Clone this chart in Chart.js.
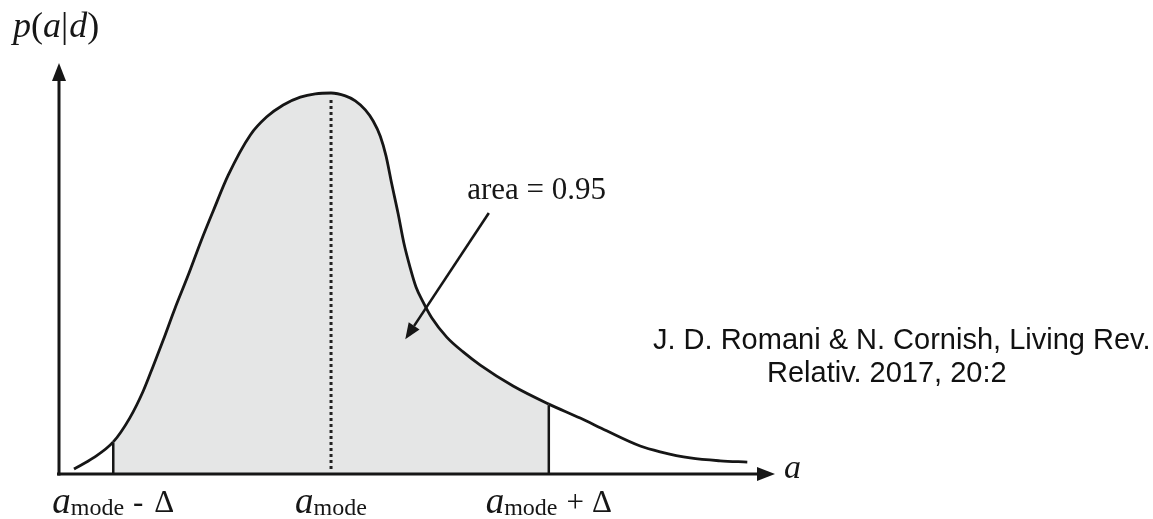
<!DOCTYPE html>
<html>
<head>
<meta charset="utf-8">
<script src="https://cdn.jsdelivr.net/npm/chart.js@4"></script>
<style>
  html, body { margin: 0; padding: 0; background: #fff; }
  #wrap { position: relative; width: 1153px; height: 519px; }
</style>
</head>
<body>
<div id="wrap"><canvas id="c"></canvas></div>
<script>
// Posterior density p(a|d) sampled along a
const aValues = [0.21, 0.48, 0.76, 0.99, 1.18, 1.32, 1.46, 1.62, 1.81, 1.99, 2.16, 2.37, 2.68, 2.91, 3.14, 3.38, 3.59, 3.81, 4.01, 4.15, 4.29, 4.40, 4.50, 4.58, 4.66, 4.75, 4.83, 4.92, 5.00, 5.10, 5.22, 5.43, 5.66, 5.90, 6.36, 6.86, 7.30, 7.67, 8.14, 8.42, 8.84, 9.26, 9.64];
const pValues = [0.012, 0.039, 0.078, 0.136, 0.202, 0.263, 0.326, 0.401, 0.484, 0.567, 0.640, 0.727, 0.825, 0.869, 0.898, 0.917, 0.925, 0.927, 0.920, 0.908, 0.886, 0.859, 0.822, 0.774, 0.706, 0.633, 0.562, 0.501, 0.455, 0.418, 0.380, 0.333, 0.297, 0.265, 0.214, 0.170, 0.136, 0.105, 0.068, 0.054, 0.039, 0.032, 0.029];

// Credible interval: a_mode - Δ, a_mode, a_mode + Δ
const aLower = 0.76;
const aMode = 3.81;
const aUpper = 6.86;
const intervalArea = 0.95;

const citationLines = ['J. D. Romani & N. Cornish, Living Rev.', 'Relativ. 2017, 20:2'];

const INK = '#161616';
const SHADE = '#e5e6e6';
const SERIF = '"Liberation Serif", "DejaVu Serif", serif';
const SANS = '"Liberation Sans", Arial, sans-serif';

function pAt(a) {
  return pValues[aValues.indexOf(a)];
}

function arrowHead(ctx, x0, y0, x1, y1, len, half) {
  const ang = Math.atan2(y1 - y0, x1 - x0);
  const bx = x1 - len * Math.cos(ang), by = y1 - len * Math.sin(ang);
  const nx = -Math.sin(ang) * half, ny = Math.cos(ang) * half;
  ctx.beginPath();
  ctx.moveTo(x1, y1);
  ctx.lineTo(bx + nx, by + ny);
  ctx.lineTo(bx - nx, by - ny);
  ctx.closePath();
  ctx.fill();
  return [bx, by];
}

// "a_mode" plus an optional "± Δ", centred on cx
function modeLabel(ctx, cx, base, sign, gap1, gap2) {
  const fA = 'italic 37px ' + SERIF, fSub = '24px ' + SERIF, fS = '31px ' + SERIF;
  ctx.font = fA; const wA = ctx.measureText('a').width;
  ctx.font = fSub; const wSub = ctx.measureText('mode').width;
  ctx.font = fS;
  const wSign = sign ? ctx.measureText(sign).width : 0;
  const wD = sign ? ctx.measureText('\u0394').width : 0;
  const total = wA + wSub + (sign ? gap1 + wSign + gap2 + wD : 0);
  let x = cx - total / 2;
  ctx.textAlign = 'left';
  ctx.textBaseline = 'alphabetic';
  ctx.font = fA; ctx.fillText('a', x, base); x += wA;
  ctx.font = fSub; ctx.fillText('mode', x, base + 2); x += wSub;
  if (sign) {
    ctx.font = fS;
    x += gap1; ctx.fillText(sign, x, base - 1); x += wSign + gap2;
    ctx.fillText('\u0394', x, base - 1);
  }
}

const overlay = {
  id: 'overlay',
  afterDatasetsDraw(chart) {
    const { ctx, scales: { x, y } } = chart;
    const y0 = y.getPixelForValue(0);
    ctx.save();
    ctx.strokeStyle = INK;
    ctx.lineWidth = 2.5;
    [aLower, aUpper].forEach(a => {
      const px = x.getPixelForValue(a);
      ctx.beginPath();
      ctx.moveTo(px, y0);
      ctx.lineTo(px, y.getPixelForValue(pAt(a)) + 1);
      ctx.stroke();
    });
    // dotted line at the mode
    const pm = x.getPixelForValue(aMode);
    ctx.setLineDash([3, 3]);
    ctx.lineWidth = 3;
    ctx.strokeStyle = '#222';
    ctx.beginPath();
    ctx.moveTo(pm, y0 - 5);
    ctx.lineTo(pm, y.getPixelForValue(pAt(aMode)) + 4);
    ctx.stroke();
    ctx.restore();
  },
  afterDraw(chart) {
    const { ctx, chartArea: ca, scales: { x, y } } = chart;
    ctx.save();
    ctx.fillStyle = INK;
    ctx.strokeStyle = INK;
    ctx.lineWidth = 3;

    // horizontal axis with arrow
    const ax0 = ca.left - 2, axY = ca.bottom, axEnd = ca.right + 2;
    const [hx] = arrowHead(ctx, ax0, axY, axEnd, axY, 18, 7);
    ctx.beginPath(); ctx.moveTo(ax0, axY); ctx.lineTo(hx + 1, axY); ctx.stroke();

    // vertical axis with arrow
    const vx = ca.left, vTop = ca.top;
    const [, hy] = arrowHead(ctx, vx, axY + 1, vx, vTop, 18, 7);
    ctx.beginPath(); ctx.moveTo(vx, axY + 1.5); ctx.lineTo(vx, hy - 1); ctx.stroke();

    // axis titles
    ctx.textBaseline = 'alphabetic';
    ctx.textAlign = 'left';
    ctx.font = 'italic 34px ' + SERIF;
    ctx.fillText('a', axEnd + 9, axY + 4);

    let tx = 13; const tb = 37;
    const parts = [['p', 'italic'], ['(', ''], ['a', 'italic'], ['|', ''], ['d', 'italic'], [')', '']];
    parts.forEach(([s, st]) => {
      ctx.font = (st ? st + ' ' : '') + '36px ' + SERIF;
      ctx.fillText(s, tx, tb);
      tx += ctx.measureText(s).width + (s === '|' ? 1 : 0);
    });

    // interval labels under the axis
    const lb = 513;
    modeLabel(ctx, x.getPixelForValue(aLower), lb, '-', 9, 11);
    modeLabel(ctx, x.getPixelForValue(aMode), lb, '', 0, 0);
    modeLabel(ctx, x.getPixelForValue(aUpper), lb, '+', 9, 8);

    // area annotation and pointer
    ctx.font = '31px ' + SERIF;
    ctx.textAlign = 'center';
    ctx.fillText('area = ' + intervalArea.toFixed(2), x.getPixelForValue(6.69), y.getPixelForValue(0.67));
    const fx = x.getPixelForValue(6.02), fy = y.getPixelForValue(0.635);
    const tx2 = x.getPixelForValue(4.85), ty2 = y.getPixelForValue(0.328);
    const [bx, by] = arrowHead(ctx, fx, fy, tx2, ty2, 16, 6.5);
    ctx.lineWidth = 2.6;
    ctx.beginPath(); ctx.moveTo(fx, fy); ctx.lineTo(bx, by); ctx.stroke();

    // citation
    ctx.fillStyle = '#111';
    ctx.font = '29px ' + SANS;
    ctx.textAlign = 'left';
    ctx.fillText(citationLines[0], 653, 349);
    ctx.fillText(citationLines[1], 767, 382);
    ctx.restore();
  }
};

new Chart(document.getElementById('c'), {
  type: 'line',
  data: {
    datasets: [{
      data: aValues.map((a, i) => ({ x: a, y: pValues[i] })),
      borderColor: INK,
      borderWidth: 2.8,
      backgroundColor: 'rgba(0,0,0,0)',
      fill: 'origin',
      pointRadius: 0,
      cubicInterpolationMode: 'monotone',
      segment: {
        backgroundColor: c => (c.p0.parsed.x >= aLower - 1e-9 && c.p1.parsed.x <= aUpper + 1e-9) ? SHADE : 'rgba(0,0,0,0)'
      }
    }]
  },
  options: {
    responsive: true,
    maintainAspectRatio: false,
    animation: false,
    layout: { padding: { left: 59, right: 380, top: 63, bottom: 45 } },
    scales: {
      x: { type: 'linear', min: 0, max: 10, display: false },
      y: { min: 0, max: 1, display: false }
    },
    plugins: { legend: { display: false }, tooltip: { enabled: false }, title: { display: false } }
  },
  plugins: [overlay]
});
</script>
</body>
</html>
